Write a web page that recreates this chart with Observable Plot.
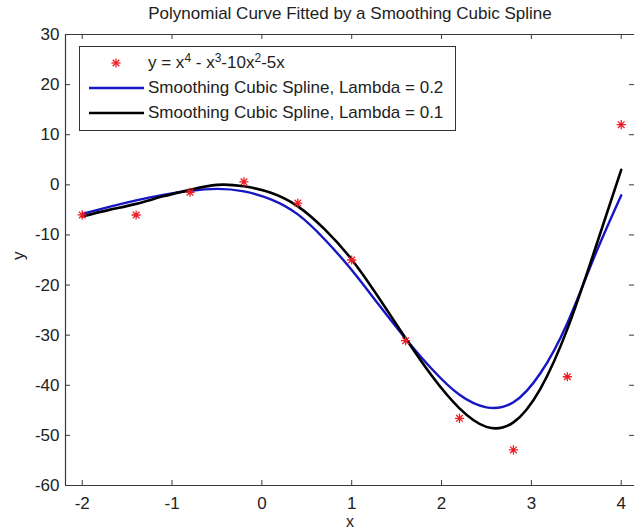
<!DOCTYPE html>
<html>
<head>
<meta charset="utf-8">
<script src="https://cdn.jsdelivr.net/npm/d3@7"></script>
<script src="https://cdn.jsdelivr.net/npm/@observablehq/plot@0.6"></script>
<style>
  html, body { margin: 0; padding: 0; background: #fff; }
  #wrap { position: relative; width: 634px; height: 529px; overflow: hidden; font-family: "Liberation Sans", Arial, Helvetica, sans-serif; color: #222; }
  #title { position: absolute; left: 65px; width: 570px; top: 3px; text-align: center; font-size: 17px; line-height: 22px; color: #222; }
  #chart { position: absolute; left: 0; top: 0; }
  #legend { position: absolute; left: 79px; top: 46px; width: 375px; height: 83px; border: 1px solid #333; background: #fff; }
  #legend .row { position: absolute; left: 0; height: 24px; line-height: 24px; font-size: 17px; white-space: nowrap; }
  #legend .txt { position: absolute; left: 68px; top: 0; }
  #legend sup { font-size: 12px; vertical-align: 6px; line-height: 0; }
  #legend svg { position: absolute; left: 0; top: 0; }
</style>
</head>
<body>
<div id="wrap">
  <div id="chart"></div>
  <div id="title"></div>
  <div id="legend"></div>
</div>
<script>
// ---- data ----
const sampleX = [-2, -1.4, -0.8, -0.2, 0.4, 1.0, 1.6, 2.2, 2.8, 3.4, 4.0];
const sampleY = [-6, -6.02, -1.48, 0.61, -3.64, -15, -31.1, -46.6, -52.9, -38.3, 12];

const splineX = [-2.0, -1.7, -1.4, -1.1, -0.8, -0.5, -0.2, 0.1, 0.4, 0.7, 1.0, 1.3, 1.6, 1.9, 2.2, 2.5, 2.8, 3.1, 3.4, 3.7, 4.0];
const splineY02 = [-5.8, -4.4, -3.1, -2.0, -1.2, -0.8, -1.3, -2.9, -5.9, -10.9, -17.0, -23.9, -30.7, -36.9, -41.9, -44.4, -43.4, -37.6, -27.6, -14.4, -2.1];
const splineY01 = [-6.3, -5.0, -3.8, -2.3, -1.0, 0.0, -0.3, -1.6, -4.3, -8.9, -14.9, -22.5, -30.6, -38.3, -44.6, -48.3, -47.4, -40.7, -28.8, -13.3, 3.0];

const xTicks = [-2, -1, 0, 1, 2, 3, 4];
const yTicks = [30, 20, 10, 0, -10, -20, -30, -40, -50, -60];

const titleText = "Polynomial Curve Fitted by a Smoothing Cubic Spline";
const xLabel = "x";
const yLabel = "y";
const legendLabels = ["y = x<sup>4</sup> - x<sup>3</sup>-10x<sup>2</sup>-5x", "Smoothing Cubic Spline, Lambda = 0.2", "Smoothing Cubic Spline, Lambda = 0.1"];

// ---- styles ----
const RED = "#ee1c25";
const BLUE = "#1616c4";
const BLACK = "#000";
const AXIS = "#3a3a3a";

const xDomain = [-2.186, 4.148];
const yDomain = [-60, 30];

const samples = sampleX.map((x, i) => ({x, y: sampleY[i]}));
const s02 = splineX.map((x, i) => ({x, y: splineY02[i]}));
const s01 = splineX.map((x, i) => ({x, y: splineY01[i]}));

// MATLAB-like '*' marker (plus + diagonal cross)
const star = {
  draw(ctx, size) {
    const r = Math.sqrt(size / Math.PI);
    const d = r * 0.72;
    ctx.moveTo(-r, 0); ctx.lineTo(r, 0);
    ctx.moveTo(0, -r); ctx.lineTo(0, r);
    ctx.moveTo(-d, -d); ctx.lineTo(d, d);
    ctx.moveTo(-d, d); ctx.lineTo(d, -d);
  }
};

const tx = 0.056; // inward tick length in x units (~5px)
const ty = 1.0;   // inward tick length in y units (~5px)
const fmt = d => String(d);

const chart = Plot.plot({
  width: 634,
  height: 529,
  marginLeft: 65,
  marginRight: 0,
  marginTop: 34,
  marginBottom: 44,
  x: {domain: xDomain},
  y: {domain: yDomain},
  style: {fontFamily: "'Liberation Sans', Arial, Helvetica, sans-serif", fontSize: "17px", color: "#222", background: "white"},
  marks: [
    Plot.axisX(xTicks, {tickSize: 0, tickPadding: 11, tickFormat: fmt, fontSize: 17, label: null}),
    Plot.axisY(yTicks, {tickSize: 0, tickPadding: 6, tickFormat: fmt, fontSize: 17, label: null}),
    // inward ticks
    Plot.ruleX(xTicks, {x: d => d, y1: yDomain[0], y2: yDomain[0] + ty, stroke: AXIS}),
    Plot.ruleX(xTicks, {x: d => d, y1: yDomain[1], y2: yDomain[1] - ty, stroke: AXIS}),
    Plot.ruleY(yTicks, {y: d => d, x1: xDomain[0], x2: xDomain[0] + tx, stroke: AXIS}),
    Plot.ruleY(yTicks, {y: d => d, x1: xDomain[1], x2: xDomain[1] - tx, stroke: AXIS}),
    // frame
    Plot.ruleY([yDomain[0], yDomain[1]], {stroke: AXIS, strokeWidth: 1.2}),
    Plot.ruleX([xDomain[0]], {stroke: AXIS, strokeWidth: 1.2}),
    // curves
    Plot.line(s02, {x: "x", y: "y", stroke: BLUE, strokeWidth: 2.4, curve: "natural"}),
    Plot.line(s01, {x: "x", y: "y", stroke: BLACK, strokeWidth: 2.6, curve: "natural"}),
    // samples
    Plot.dot(samples, {x: "x", y: "y", symbol: star, r: 4.6, stroke: RED, fill: "none", strokeWidth: 1.3}),
    // axis labels
    Plot.text([xLabel], {frameAnchor: "bottom", dy: 41, lineAnchor: "bottom", text: d => d, fontSize: 16, fill: "#222"}),
    Plot.text([yLabel], {frameAnchor: "left", dx: -47, rotate: -90, text: d => d, fontSize: 17, fill: "#222"})
  ]
});
document.getElementById("chart").appendChild(chart);
document.getElementById("title").textContent = titleText;

// legend
const legend = document.getElementById("legend");
const rowsY = [16, 41, 66]; // centers relative to legend box
const kinds = [{type: "star", color: RED}, {type: "line", color: BLUE}, {type: "line", color: BLACK}];
legendLabels.forEach((lab, i) => {
  const row = document.createElement("div");
  row.className = "row";
  row.style.top = (rowsY[i] - 12) + "px";
  row.style.width = "375px";
  const k = kinds[i];
  let svg;
  if (k.type === "star") {
    svg = `<svg width="70" height="24"><g transform="translate(36,12)" stroke="${k.color}" stroke-width="1.3" fill="none">
      <line x1="-4.6" y1="0" x2="4.6" y2="0"/><line x1="0" y1="-4.6" x2="0" y2="4.6"/>
      <line x1="-3.3" y1="-3.3" x2="3.3" y2="3.3"/><line x1="-3.3" y1="3.3" x2="3.3" y2="-3.3"/></g></svg>`;
  } else {
    svg = `<svg width="70" height="24"><line x1="9" y1="12" x2="64" y2="12" stroke="${k.color}" stroke-width="2.6"/></svg>`;
  }
  row.innerHTML = svg + `<span class="txt">${lab}</span>`;
  legend.appendChild(row);
});
</script>
</body>
</html>
